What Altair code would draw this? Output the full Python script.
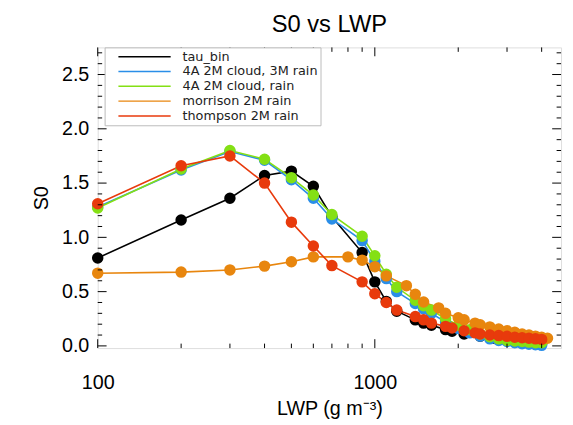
import altair as alt
import pandas as pd

series_names = ["tau_bin", "4A 2M cloud, 3M rain", "4A 2M cloud, rain",
                "morrison 2M rain", "thompson 2M rain"]
series_colors = ["#000000", "#2a8ee8", "#84e014", "#e8860e", "#e83a0c"]

tau_x = [100, 200, 300, 400, 500, 600, 700, 900, 1000, 1100, 1200, 1400, 1500,
         1600, 1800, 1900, 2100, 2400, 2700, 3000, 3300, 3600, 4000]
tau_y = [0.81, 1.16, 1.36, 1.57, 1.61, 1.47, 1.19, 0.86, 0.59, 0.41, 0.32, 0.24,
         0.21, 0.19, 0.15, 0.135, 0.11, 0.09, 0.07, 0.055, 0.04, 0.03, 0.02]

blue_x = [100, 200, 300, 400, 500, 600, 700, 900, 1000, 1100, 1200, 1400, 1500,
          1600, 1800, 2000, 2200, 2400, 2600, 2800, 3000, 3200, 3400, 3600, 3800, 4000]
blue_y = [1.28, 1.62, 1.79, 1.71, 1.53, 1.36, 1.17, 0.97, 0.78, 0.62, 0.50, 0.39,
          0.34, 0.30, 0.22, 0.16, 0.12, 0.09, 0.065, 0.05, 0.04, 0.03, 0.02, 0.015,
          0.01, 0.005]

green_x = [100, 200, 300, 400, 500, 600, 700, 900, 1000, 1100, 1200, 1400, 1500,
           1600, 1800, 2000, 2200, 2400, 2600, 2800, 3000, 3200, 3400, 3600, 3800, 4000]
green_y = [1.27, 1.63, 1.80, 1.72, 1.55, 1.39, 1.21, 1.01, 0.83, 0.66, 0.54, 0.42,
           0.37, 0.33, 0.25, 0.19, 0.15, 0.11, 0.085, 0.065, 0.05, 0.045, 0.04,
           0.035, 0.03, 0.03]

orange_x = [100, 200, 300, 400, 500, 600, 800, 900, 1000, 1100, 1300, 1400, 1500,
            1700, 1800, 2000, 2100, 2300, 2400, 2600, 2800, 3000, 3200, 3400, 3600,
            3800, 4000, 4200]
orange_y = [0.67, 0.68, 0.70, 0.735, 0.775, 0.82, 0.82, 0.79, 0.73, 0.645, 0.555,
            0.475, 0.405, 0.35, 0.30, 0.26, 0.24, 0.21, 0.195, 0.175, 0.155, 0.14,
            0.125, 0.11, 0.10, 0.09, 0.08, 0.07]

red_x = [100, 200, 300, 400, 500, 600, 700, 900, 1000, 1100, 1200, 1400, 1500, 1600,
         1800, 1900, 2100, 2300, 2400, 2600, 2800, 3000, 3200, 3400, 3600, 3800, 4000]
red_y = [1.31, 1.66, 1.75, 1.50, 1.14, 0.92, 0.74, 0.59, 0.48, 0.40, 0.33, 0.27,
         0.24, 0.21, 0.18, 0.165, 0.14, 0.12, 0.11, 0.10, 0.095, 0.088, 0.08, 0.075,
         0.07, 0.065, 0.06]

x_major = [100, 1000]
x_minor = [200, 300, 400, 500, 600, 700, 800, 900, 2000, 3000, 4000]
y_major = [0.0, 0.5, 1.0, 1.5, 2.0, 2.5]
y_minor = [0.1, 0.2, 0.3, 0.4, 0.6, 0.7, 0.8, 0.9, 1.1, 1.2, 1.3, 1.4, 1.6, 1.7,
           1.8, 1.9, 2.1, 2.2, 2.3, 2.4, 2.6, 2.7]

all_x = [tau_x, blue_x, green_x, orange_x, red_x]
all_y = [tau_y, blue_y, green_y, orange_y, red_y]
rows = []
for k, (name, xs, ys) in enumerate(zip(series_names, all_x, all_y)):
    for xv, yv in zip(xs, ys):
        rows.append({"series": name, "lwp": xv, "s0": yv, "k": k})
df = pd.DataFrame(rows)

W, H = 470, 305
FONT = "Liberation Sans"
xscale = alt.Scale(type="log", domain=[100, 4700], nice=False)
yscale = alt.Scale(domain=[-0.02, 2.75], nice=False, zero=False)
cscale = alt.Scale(domain=series_names, range=series_colors)

legend = alt.Legend(
    title=None, orient="none", legendX=7, legendY=0,
    symbolType="stroke", symbolSize=2809, symbolStrokeWidth=1.5,
    clipHeight=15, rowPadding=0, padding=2,
    symbolOffset=11, labelOffset=11,
    labelFont="DejaVu Sans", labelFontSize=13, labelColor="#222222",
    strokeColor="#bbbbbb", fillColor="white", cornerRadius=0,
)

x_axis = alt.Axis(values=x_major, format="d", ticks=False, domain=False,
                  grid=False, labelFont=FONT, labelFontSize=20,
                  labelColor="black", labelPadding=25, labelFlush=False,
                  title="LWP (g m⁻³)", titleFont=FONT, titleFontSize=20,
                  titleFontWeight="normal", titleColor="black", titlePadding=6)
y_axis = alt.Axis(values=y_major, format=".1f", ticks=False, domain=False,
                  grid=False, labelFont=FONT, labelFontSize=20,
                  labelColor="black", labelPadding=9, labelFlush=False,
                  title="S0", titleFont=FONT, titleFontSize=20,
                  titleFontWeight="normal", titleColor="black", titlePadding=10)

lines = alt.Chart(df).mark_line(strokeWidth=1.6).encode(
    x=alt.X("lwp:Q", scale=xscale, axis=x_axis),
    y=alt.Y("s0:Q", scale=yscale, axis=y_axis),
    color=alt.Color("series:N", scale=cscale, legend=legend),
    detail="series:N",
    order=alt.Order("lwp:Q"),
)
points = alt.Chart(df).mark_circle(size=135, opacity=1).encode(
    x=alt.X("lwp:Q", scale=xscale, axis=x_axis),
    y=alt.Y("s0:Q", scale=yscale, axis=y_axis),
    color=alt.Color("series:N", scale=cscale, legend=legend),
    order=alt.Order("k:Q"),
)

def xticks(vals, y0, y1):
    d = pd.DataFrame({"lwp": vals})
    return alt.Chart(d).mark_rule(color="black", strokeWidth=1).encode(
        x=alt.X("lwp:Q", scale=xscale, axis=x_axis),
        y=alt.value(y0), y2=alt.value(y1))

def yticks(vals, x0, x1):
    d = pd.DataFrame({"s0": vals})
    return alt.Chart(d).mark_rule(color="black", strokeWidth=1).encode(
        y=alt.Y("s0:Q", scale=yscale, axis=y_axis),
        x=alt.value(x0), x2=alt.value(x1))

tick_layers = [
    xticks(x_major, H, H - 9), xticks(x_minor, H, H - 4.5),
    xticks(x_major, 0, 9), xticks(x_minor, 0, 4.5),
    yticks(y_major, 0, 9), yticks(y_minor, 0, 4.5),
    yticks(y_major, W, W - 9), yticks(y_minor, W, W - 4.5),
]

chart = alt.layer(lines, points, *tick_layers).properties(
    width=W, height=H,
    title=alt.TitleParams("S0 vs LWP", font=FONT, fontSize=24, fontWeight="normal",
                          color="black", anchor="middle", baseline="alphabetic",
                          offset=-9),
    autosize=alt.AutoSizeParams(type="none"),
    padding={"left": 91, "top": 37, "right": 4, "bottom": 70},
).configure_view(stroke="#222222", strokeWidth=1).configure(background="white")

chart.save("out.html", embed_options={"renderer": "svg", "actions": False})
